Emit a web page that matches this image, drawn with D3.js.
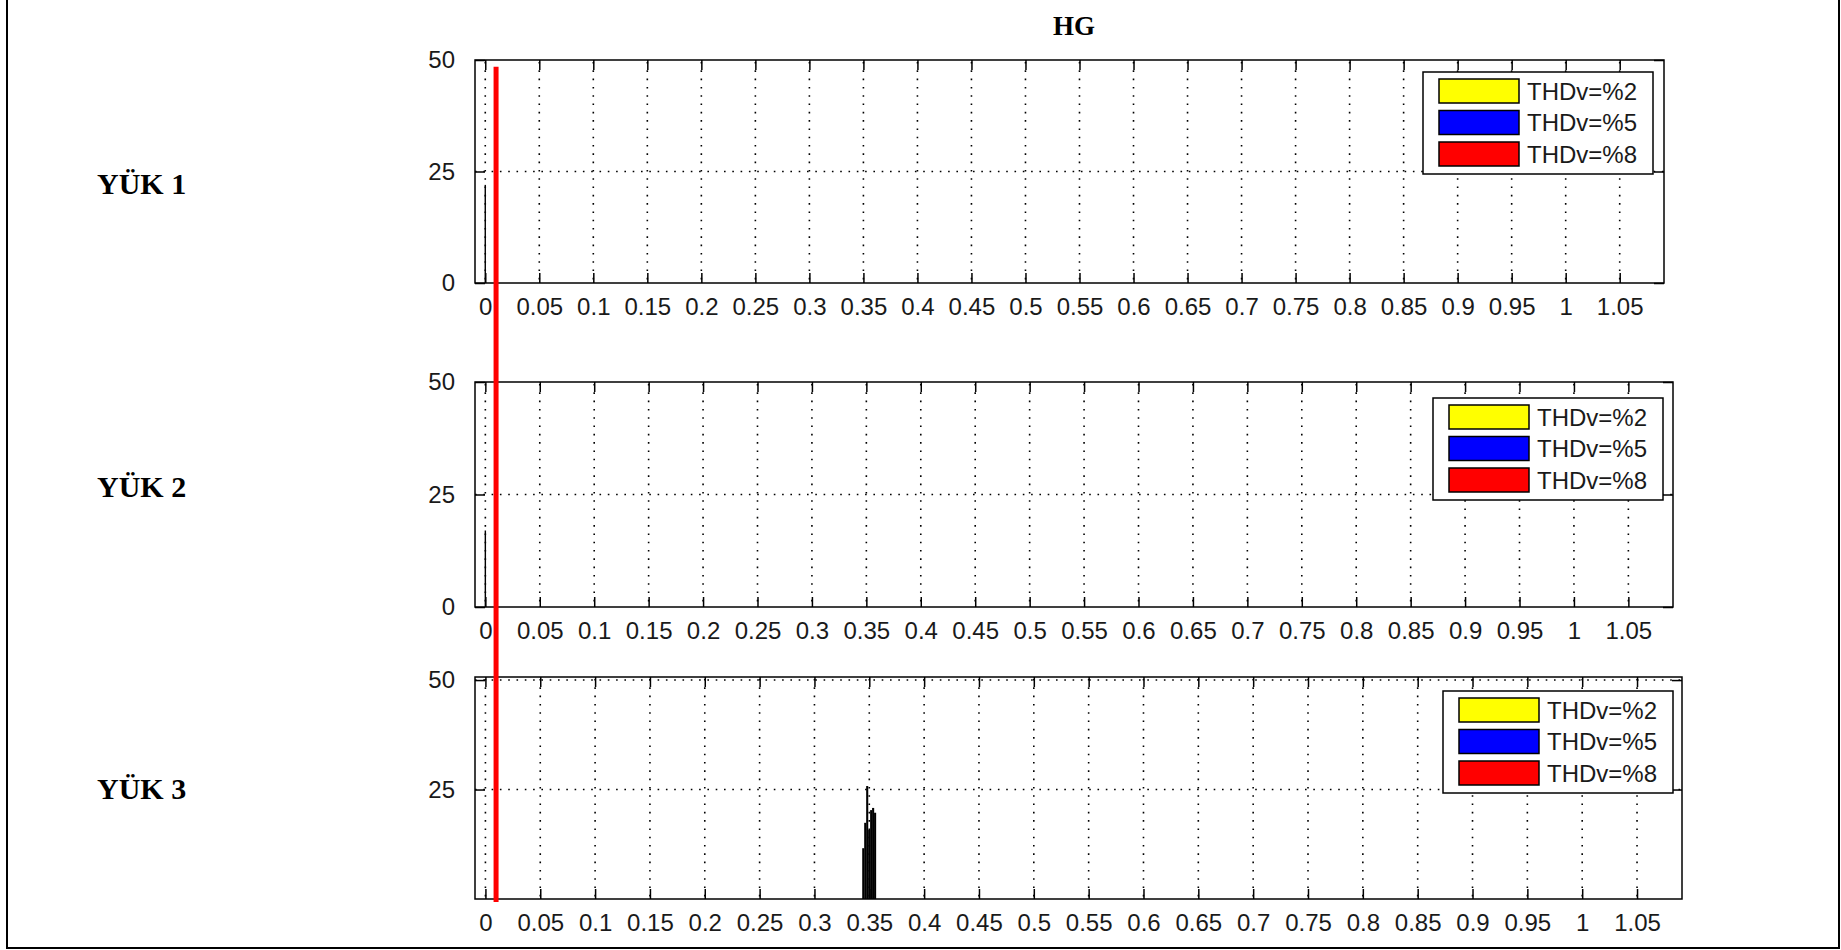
<!DOCTYPE html>
<html>
  <head>
    <meta charset="utf-8" />
    <style>
      body {
        margin: 0;
        background: #fff;
      }
      svg {
        display: block;
      }
      .tick-label {
        font-family: "Liberation Sans", Arial, sans-serif;
        font-size: 24px;
        fill: #1a1a1a;
      }
      .legend-text {
        font-family: "Liberation Sans", Arial, sans-serif;
        font-size: 24px;
        fill: #1a1a1a;
      }
      .row-label {
        font-family: "Liberation Serif", "Times New Roman", serif;
        font-weight: bold;
        font-size: 30px;
        fill: #000;
      }
      .title {
        font-family: "Liberation Serif", "Times New Roman", serif;
        font-weight: bold;
        font-size: 27px;
        fill: #000;
      }
      .grid {
        stroke: #000;
        stroke-width: 1.6;
        stroke-dasharray: 1.6, 6.7;
      }
    </style>
  </head>
  <body>
    <svg width="1841" height="950"></svg>

    <script src="https://d3js.org/d3.v7.min.js"></script>
    <script>
      // ---- data ----
      const title = "HG";
      const rowLabels = ["YÜK 1", "YÜK 2", "YÜK 3"];
      const xTicks = [
        0, 0.05, 0.1, 0.15, 0.2, 0.25, 0.3, 0.35, 0.4, 0.45, 0.5, 0.55, 0.6,
        0.65, 0.7, 0.75, 0.8, 0.85, 0.9, 0.95, 1, 1.05,
      ];
      const yTicks1 = [0, 25, 50];
      const yTicks2 = [0, 25, 50];
      const yTicks3 = [25, 50];
      const legendNames = ["THDv=%2", "THDv=%5", "THDv=%8"];
      const legendColors = ["#ffff00", "#0000ff", "#ff0000"];

      // bars: x position, value
      const barsYuk1 = [{ x: 0, v: 22 }];
      const barsYuk2 = [{ x: 0, v: 17 }];
      const barsYuk3 = [
        { x: 0.3445, v: 11.6 },
        { x: 0.3463, v: 17.4 },
        { x: 0.3481, v: 25.8 },
        { x: 0.3499, v: 15.8 },
        { x: 0.3517, v: 20.3 },
        { x: 0.3535, v: 20.8 },
        { x: 0.3553, v: 19.7 },
      ];

      // red marker line drawn across all three panels
      const markerX = 0.01;
      const markerTop = 48.5;

      // ---- layout ----
      let svg = d3.select("svg");

      let panels = [
        { left: 475, right: 1664, top: 60, bottom: 283, ymax: 50, yTicks: yTicks1, bars: barsYuk1, barW: 0.0013, labelY: 194, legTop: 12, legRight: 11 },
        { left: 475, right: 1673, top: 382, bottom: 607, ymax: 50, yTicks: yTicks2, bars: barsYuk2, barW: 0.0013, labelY: 497, legTop: 16, legRight: 10 },
        { left: 475, right: 1682, top: 677, bottom: 899, ymax: 50.7, yTicks: yTicks3, bars: barsYuk3, barW: 0.0019, labelY: 799, legTop: 14, legRight: 9 },
      ];

      // frame (left, right, bottom)
      svg.append("path")
        .attr("d", "M7,0 L7,948 L1839,948 L1839,0")
        .attr("fill", "none")
        .attr("stroke", "#000")
        .attr("stroke-width", 2);

      svg.append("text")
        .attr("class", "title")
        .attr("x", 1074)
        .attr("y", 35)
        .attr("text-anchor", "middle")
        .text(title);

      panels.forEach((p, i) => {
        p.x = d3.scaleLinear().domain([-0.0095, 1.091]).range([p.left, p.right]);
        p.y = d3.scaleLinear().domain([0, p.ymax]).range([p.bottom, p.top]);

        let g = svg.append("g");

        // row label
        svg.append("text")
          .attr("class", "row-label")
          .attr("x", 97)
          .attr("y", p.labelY)
          .text(rowLabels[i]);

        // grid
        g.selectAll(".vgrid")
          .data(xTicks)
          .join("line")
          .attr("class", "grid")
          .attr("x1", (d) => p.x(d))
          .attr("x2", (d) => p.x(d))
          .attr("y1", p.top + 2)
          .attr("y2", p.bottom);

        g.selectAll(".hgrid")
          .data(p.yTicks.filter((d) => d > 0 && d < p.ymax - 0.01))
          .join("line")
          .attr("class", "grid")
          .attr("x1", p.left)
          .attr("x2", p.right)
          .attr("y1", (d) => p.y(d))
          .attr("y2", (d) => p.y(d));

        // bars
        g.selectAll(".bar")
          .data(p.bars)
          .join("rect")
          .attr("x", (d) => p.x(d.x - p.barW / 2))
          .attr("width", (d) => p.x(d.x + p.barW / 2) - p.x(d.x - p.barW / 2))
          .attr("y", (d) => p.y(d.v))
          .attr("height", (d) => p.y(0) - p.y(d.v))
          .attr("fill", "#000");

        // axes: bottom labels, inside ticks on all sides
        let bottomAxis = d3.axisBottom(p.x)
          .tickValues(xTicks)
          .tickSize(-10)
          .tickPadding(20)
          .tickFormat((d) => d3.format("~g")(d));
        let xa = g.append("g")
          .attr("transform", `translate(0,${p.bottom})`)
          .call(bottomAxis);
        xa.select(".domain").remove();
        xa.selectAll("text").attr("class", "tick-label").attr("fill", null).attr("dy", "0.5em");
        xa.selectAll("line").attr("stroke", "#000").attr("stroke-width", 1.5);

        let topAxis = d3.axisTop(p.x).tickValues(xTicks).tickSize(-10).tickFormat("");
        let xt = g.append("g").attr("transform", `translate(0,${p.top})`).call(topAxis);
        xt.select(".domain").remove();
        xt.selectAll("line").attr("stroke", "#000").attr("stroke-width", 1.5);

        let leftAxis = d3.axisLeft(p.y).tickValues(p.yTicks).tickSize(-10).tickPadding(20);
        let ya = g.append("g").attr("transform", `translate(${p.left},0)`).call(leftAxis);
        ya.select(".domain").remove();
        ya.selectAll("text").attr("class", "tick-label").attr("fill", null);
        ya.selectAll("line").attr("stroke", "#000").attr("stroke-width", 1.5);

        let rightAxis = d3.axisRight(p.y).tickValues(p.yTicks).tickSize(-10).tickFormat("");
        let yr = g.append("g").attr("transform", `translate(${p.right},0)`).call(rightAxis);
        yr.select(".domain").remove();
        yr.selectAll("line").attr("stroke", "#000").attr("stroke-width", 1.5);

        // axes box
        g.append("rect")
          .attr("x", p.left)
          .attr("y", p.top)
          .attr("width", p.right - p.left)
          .attr("height", p.bottom - p.top)
          .attr("fill", "none")
          .attr("stroke", "#000")
          .attr("stroke-width", 1.5);

        // legend
        let lw = 230, lh = 102;
        let lx = p.right - p.legRight - lw;
        let ly = p.top + p.legTop;
        let leg = g.append("g").attr("transform", `translate(${lx},${ly})`);
        leg.append("rect")
          .attr("width", lw)
          .attr("height", lh)
          .attr("fill", "#fff")
          .attr("stroke", "#000")
          .attr("stroke-width", 1.5);
        legendNames.forEach((name, k) => {
          leg.append("rect")
            .attr("x", 16)
            .attr("y", 7 + k * 31.5)
            .attr("width", 80)
            .attr("height", 24)
            .attr("fill", legendColors[k])
            .attr("stroke", "#000")
            .attr("stroke-width", 1.5);
          leg.append("text")
            .attr("class", "legend-text")
            .attr("x", 104)
            .attr("y", 7 + k * 31.5 + 12)
            .attr("dy", "0.36em")
            .text(name);
        });
      });

      // red marker line across the panels
      svg.append("line")
        .attr("x1", panels[0].x(markerX))
        .attr("x2", panels[0].x(markerX))
        .attr("y1", panels[0].y(markerTop))
        .attr("y2", panels[2].y(0) + 3)
        .attr("stroke", "#ff0000")
        .attr("stroke-width", 5);
    </script>
  </body>
</html>
